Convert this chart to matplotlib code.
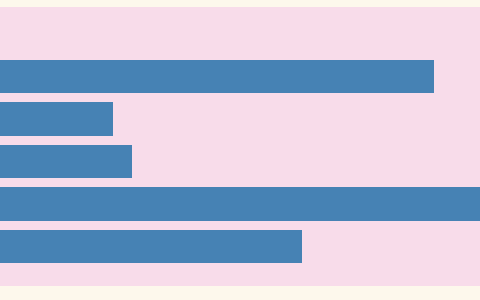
import matplotlib
matplotlib.use("Agg")
import matplotlib.pyplot as plt

categories = ["A", "B", "C", "D", "E"]
values = [90.4, 23.5, 27.5, 100.0, 62.9]

fig = plt.figure(figsize=(4.8, 3.0), dpi=100)
fig.patch.set_facecolor("#fdf8ec")
ax = fig.add_axes([0, 14/300, 1, 279/300])
ax.set_facecolor("#f8dcea")
pos = list(range(len(categories)))
ax.barh(pos, values, height=0.78, color="#4682b4")
ax.set_xlim(0, 100)
ax.set_ylim(4.93, -1.635)
ax.set_xticks([])
ax.set_yticks([])
for s in ax.spines.values():
    s.set_visible(False)
fig.savefig("out.png", dpi=100, facecolor=fig.get_facecolor())
